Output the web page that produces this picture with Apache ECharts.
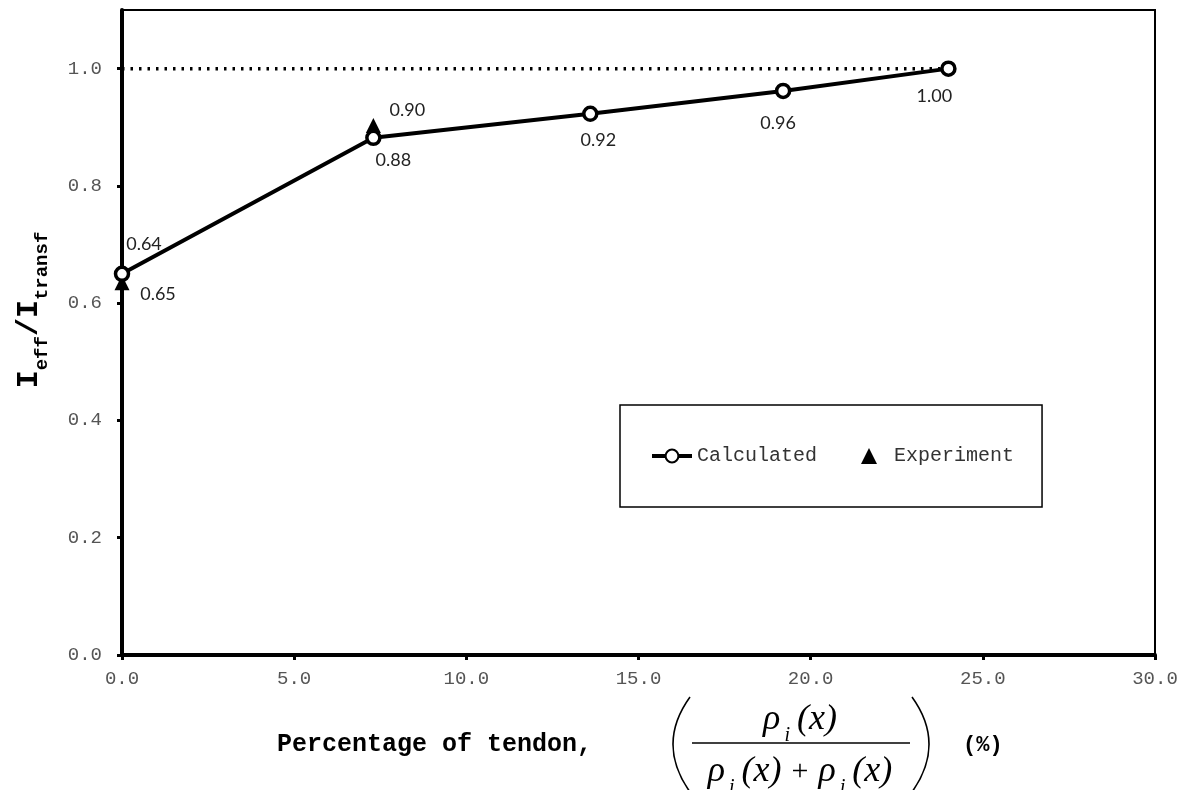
<!DOCTYPE html>
<html>
<head>
<meta charset="utf-8">
<script src="https://cdn.jsdelivr.net/npm/echarts@6/dist/echarts.min.js"></script>
<style>
  html, body { margin: 0; padding: 0; background: #fff; }
  #chart { width: 1187px; height: 790px; }
</style>
</head>
<body>
<div id="chart"></div>
<script>
// calculated curve (x = % of tendon, y = Ieff/Itransf)
const calcX = [0, 7.3, 13.6, 19.2, 24.0]
const calcY = [0.65, 0.882, 0.923, 0.962, 1.0]
const calcLabels = ['0.64', '0.88', '0.92', '0.96', '1.00']
// experiment points
const expX = [0, 7.3]
const expY = [0.635, 0.903]
const expLabels = ['0.65', '0.90']
// dotted reference line at 1.0
const refX = [0, 24.0]
const refY = [1.0, 1.0]

const xTicks = { min: 0, max: 30, interval: 5 }
const yTicks = { min: 0, max: 1.1, interval: 0.2 }

// label offsets (px) so the numbers sit like in the figure
const calcOffsets = [[22, -30], [20, 22], [8, 26], [-5, 32], [-14, 28]]
const expOffsets = [[36, 12], [34, -15]]

const mono = '"Courier New", "Liberation Mono", monospace'
const sans = 'Lato, "Open Sans", sans-serif'
const serif = '"Liberation Serif", "Times New Roman", serif'

const zip = (xs, ys) => xs.map((x, i) => [x, ys[i]])

const calcData = zip(calcX, calcY).map((p, i) => ({
  value: p,
  label: { formatter: calcLabels[i], offset: calcOffsets[i] }
}))
const expData = zip(expX, expY).map((p, i) => ({
  value: p,
  label: { formatter: expLabels[i], offset: expOffsets[i] }
}))

// rich styles for the fraction in the x-axis title
const fracRich = {
  g: { fontFamily: serif, fontStyle: 'italic', fontSize: 36, padding: [0, 0, 8, 0] },
  i: { fontFamily: serif, fontStyle: 'italic', fontSize: 20, verticalAlign: 'bottom', padding: [0, 7, 0, 4] },
  n: { fontFamily: serif, fontStyle: 'italic', fontSize: 36, padding: [0, 0, 8, 0] },
  p: { fontFamily: serif, fontSize: 30, padding: [0, 10, 8, 10] }
}

const chart = echarts.init(document.getElementById('chart'))

const option = {
  backgroundColor: '#fff',
  animation: false,
  grid: {
    left: 122, right: 32, top: 10, bottom: 135,
    show: true, borderColor: '#000', borderWidth: 2, backgroundColor: 'transparent'
  },
  legend: {
    left: 620, top: 405,
    padding: [41, 28, 41, 30],
    itemGap: 44,
    itemWidth: 40, itemHeight: 16,
    borderColor: '#000', borderWidth: 1.5,
    backgroundColor: '#fff',
    textStyle: { fontFamily: mono, fontSize: 20, color: '#333' },
    data: [
      { name: 'Calculated', lineStyle: { width: 4, color: '#000' } },
      { name: 'Experiment', icon: 'path://M5,0 L10,10 L0,10 Z', itemStyle: { color: '#000' } }
    ]
  },
  xAxis: {
    type: 'value',
    min: xTicks.min, max: xTicks.max, interval: xTicks.interval,
    splitLine: { show: false },
    axisLine: { lineStyle: { color: '#000', width: 4 } },
    axisTick: { length: 5, lineStyle: { color: '#000', width: 3 } },
    axisLabel: {
      margin: 14, color: '#555', fontFamily: mono, fontSize: 19,
      formatter: v => v.toFixed(1)
    }
  },
  yAxis: {
    type: 'value',
    min: yTicks.min, max: yTicks.max, interval: yTicks.interval,
    splitLine: { show: false },
    axisLine: { lineStyle: { color: '#000', width: 4 } },
    axisTick: { length: 5, lineStyle: { color: '#000', width: 3 } },
    axisLabel: {
      margin: 20, color: '#555', fontFamily: mono, fontSize: 19,
      showMaxLabel: false,
      formatter: v => v.toFixed(1)
    }
  },
  series: [
    {
      name: 'ref',
      type: 'line',
      data: zip(refX, refY),
      symbol: 'none',
      silent: true,
      lineStyle: { color: '#000', width: 3.5, type: [2.5, 6] },
      z: 1
    },
    {
      name: 'Calculated',
      type: 'line',
      data: calcData,
      symbol: 'circle',
      symbolSize: 13,
      color: '#000',
      lineStyle: { color: '#000', width: 4 },
      itemStyle: { color: '#fff', borderColor: '#000', borderWidth: 3.5 },
      label: {
        show: true, position: 'inside',
        fontFamily: sans, fontSize: 18, color: '#222'
      },
      z: 3
    },
    {
      name: 'Experiment',
      type: 'scatter',
      data: expData,
      symbol: 'triangle',
      symbolSize: 15,
      itemStyle: { color: '#000', opacity: 1 },
      label: {
        show: true, position: 'inside', opacity: 1,
        fontFamily: sans, fontSize: 18, color: '#222'
      },
      z: 2
    }
  ],
  graphic: [
    {
      type: 'text',
      x: 33, y: 310, rotation: Math.PI / 2,
      style: {
        text: '{m|I}{s|eff}{m|/I}{s|transf}',
        align: 'center', verticalAlign: 'middle',
        fill: '#000',
        rich: {
          m: { fontFamily: mono, fontWeight: 'bold', fontSize: 30, padding: [0, 0, 8, 0] },
          s: { fontFamily: mono, fontWeight: 'bold', fontSize: 19, verticalAlign: 'bottom' }
        }
      }
    },
    {
      type: 'text', x: 277, y: 745,
      style: {
        text: 'Percentage of tendon,', fill: '#000',
        font: 'bold 25px ' + mono, verticalAlign: 'middle'
      }
    },
    {
      type: 'bezierCurve',
      shape: { x1: 690, y1: 697, x2: 690, y2: 792, cpx1: 656, cpy1: 744 },
      style: { stroke: '#000', lineWidth: 1.6, fill: null }
    },
    {
      type: 'bezierCurve',
      shape: { x1: 912, y1: 697, x2: 912, y2: 792, cpx1: 946, cpy1: 744 },
      style: { stroke: '#000', lineWidth: 1.6, fill: null }
    },
    {
      type: 'line',
      shape: { x1: 692, y1: 743, x2: 910, y2: 743 },
      style: { stroke: '#000', lineWidth: 1.6 }
    },
    {
      type: 'text', x: 800, y: 724,
      style: {
        text: '{g|ρ}{i|i}{n|(x)}',
        align: 'center', verticalAlign: 'middle', fill: '#000',
        rich: fracRich
      }
    },
    {
      type: 'text', x: 800, y: 776,
      style: {
        text: '{g|ρ}{i|i}{n|(x)}{p|+}{g|ρ}{i|j}{n|(x)}',
        align: 'center', verticalAlign: 'middle', fill: '#000',
        rich: fracRich
      }
    },
    {
      type: 'text', x: 963, y: 745,
      style: {
        text: '(%)', fill: '#000',
        font: 'bold 22px ' + mono, verticalAlign: 'middle'
      }
    }
  ]
}

chart.setOption(option)
</script>
</body>
</html>
